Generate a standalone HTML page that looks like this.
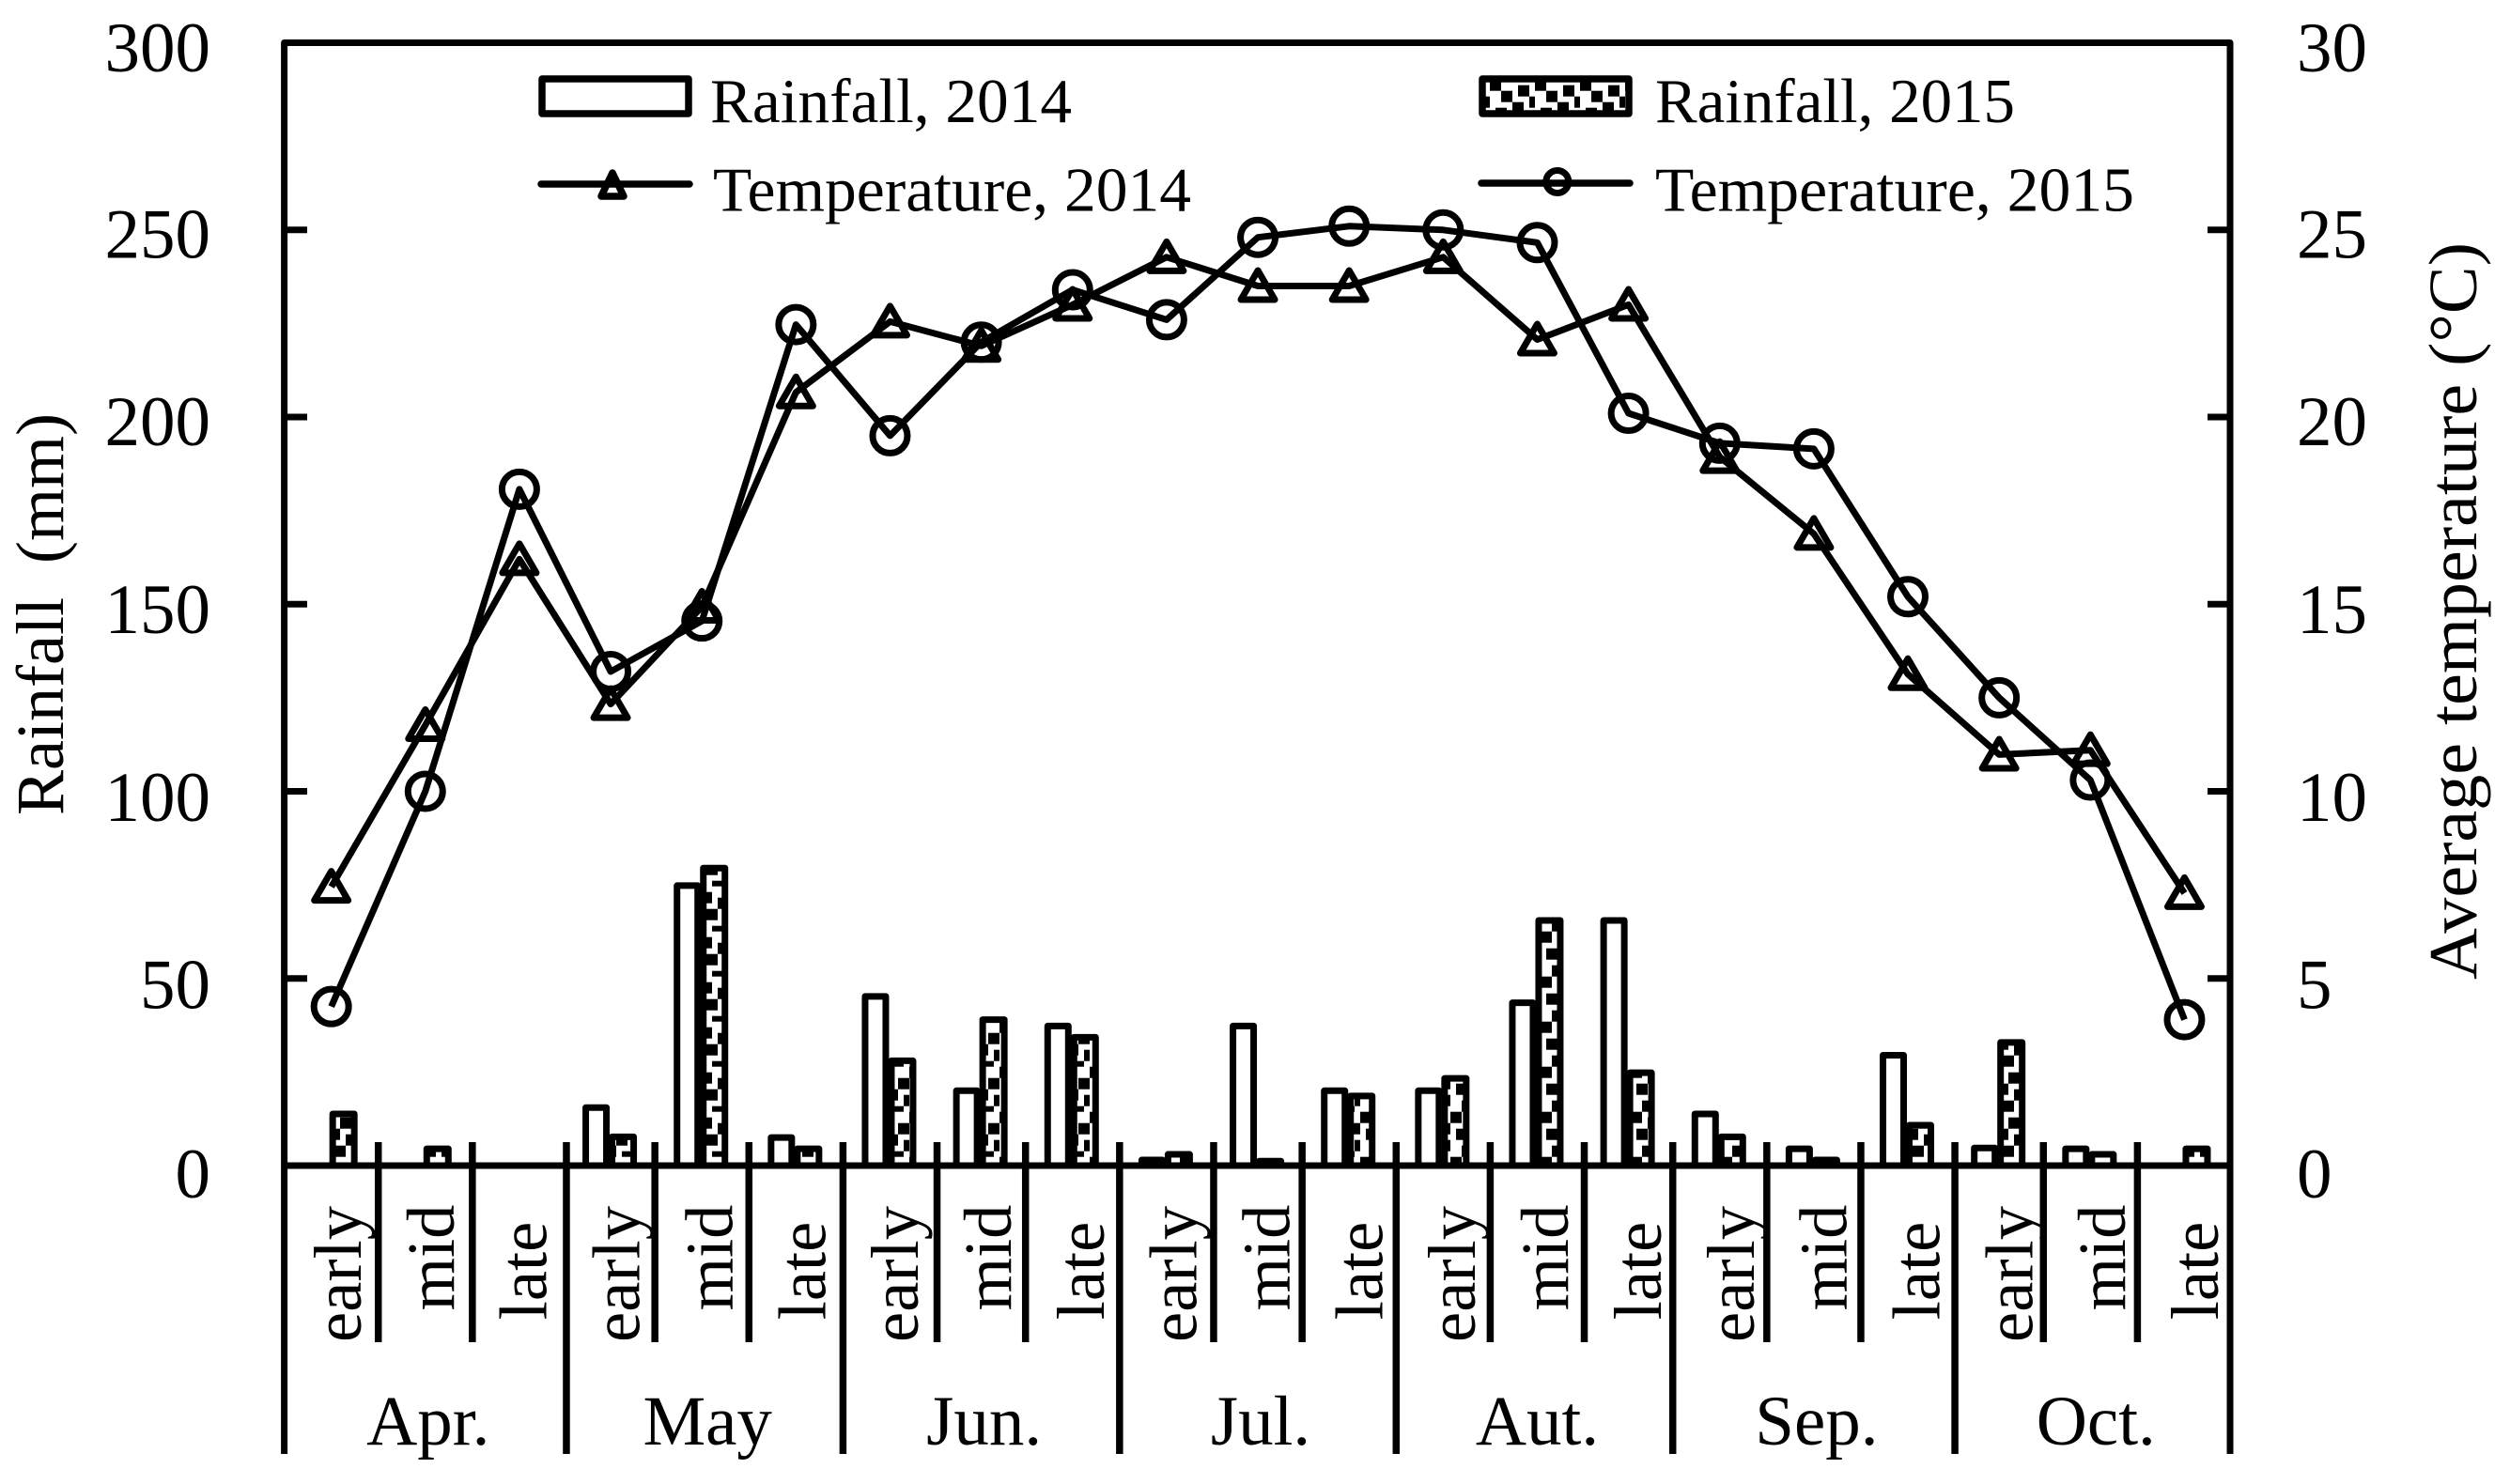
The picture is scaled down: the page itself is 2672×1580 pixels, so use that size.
<!DOCTYPE html>
<html lang="en">
<head>
<meta charset="utf-8">
<title>Rainfall and average temperature, 2014 and 2015</title>
<style>
html,body{margin:0;padding:0;background:#fff;width:2672px;height:1580px;overflow:hidden}
svg{display:block}
text{font-family:"Liberation Serif","Times New Roman",serif;fill:#000}
</style>
</head>
<body>
<svg id="chart" xmlns="http://www.w3.org/2000/svg" width="2672" height="1580" viewBox="0 0 2672 1580">
  <defs>
    <pattern id="barHatch" patternUnits="userSpaceOnUse" width="48" height="48" patternTransform="translate(8 31.7)">
      <rect width="48" height="48" fill="#fff"/>
      <g fill="#000">
        <rect x="0" y="0" width="12" height="12"/><rect x="6" y="18" width="12" height="12"/>
        <rect x="12" y="36" width="12" height="12"/><rect x="18" y="6" width="12" height="12"/>
        <rect x="24" y="24" width="12" height="12"/><rect x="30" y="42" width="12" height="12"/>
        <rect x="36" y="12" width="12" height="12"/><rect x="42" y="30" width="12" height="12"/>
      </g>
    </pattern>
    <pattern id="legendHatch" patternUnits="userSpaceOnUse" width="48" height="48" patternTransform="translate(1586 84.7)">
      <rect width="48" height="48" fill="#fff"/>
      <g fill="#000">
        <rect x="0" y="0" width="12" height="12"/><rect x="6" y="30" width="12" height="12"/>
        <rect x="12" y="12" width="12" height="12"/><rect x="18" y="42" width="12" height="12"/>
        <rect x="24" y="24" width="12" height="12"/><rect x="30" y="6" width="12" height="12"/>
        <rect x="36" y="36" width="12" height="12"/><rect x="42" y="18" width="12" height="12"/>
      </g>
    </pattern>
  </defs>

  <g id="legend">
    <g>
      <rect x="577" y="84" width="156" height="37" fill="#fff" stroke="#000" stroke-width="7.5" stroke-linejoin="round"/>
      <text x="756" y="130" font-size="67" textLength="385" lengthAdjust="spacingAndGlyphs">Rainfall, 2014</text>
    </g>
    <g>
      <rect x="1578" y="84" width="156" height="37" fill="url(#legendHatch)" stroke="#000" stroke-width="7.5" stroke-linejoin="round"/>
      <text x="1762" y="130" font-size="67" textLength="383" lengthAdjust="spacingAndGlyphs">Rainfall, 2015</text>
    </g>
    <g>
      <line x1="576" y1="196" x2="734" y2="196" stroke="#000" stroke-width="7.5" stroke-linecap="round"/>
      <path d="M652 184 L664 209 L640 209 Z" fill="none" stroke="#000" stroke-width="7.5" stroke-linejoin="round"/>
      <text x="759" y="224.5" font-size="67" textLength="509" lengthAdjust="spacingAndGlyphs">Temperature, 2014</text>
    </g>
    <g>
      <line x1="1577" y1="195" x2="1735" y2="195" stroke="#000" stroke-width="7.5" stroke-linecap="round"/>
      <circle cx="1657.8" cy="193.5" r="12" fill="none" stroke="#000" stroke-width="7"/>
      <text x="1762" y="224.5" font-size="67" textLength="510" lengthAdjust="spacingAndGlyphs">Temperature, 2015</text>
    </g>
  </g>

  <text transform="translate(67 868) rotate(-90)" font-size="72" textLength="428" lengthAdjust="spacingAndGlyphs" xml:space="preserve">Rainfall  (mm)</text>
  <text transform="translate(2636 1043) rotate(-90)" font-size="73" textLength="785" lengthAdjust="spacingAndGlyphs">Average temperature (°C)</text>
</svg>

<script>
const periods = ["early","mid","late"];
const months = ["Apr.","May","Jun.","Jul.","Aut.","Sep.","Oct."];
const rainTicks = [0,50,100,150,200,250,300];
const tempTicks = [0,5,10,15,20,25,30];
const rainfall2014 = [0,0,0,15.5,74.8,7.5,45.2,20,37.3,1.5,37.3,20,20,43.5,65.5,13.8,4.5,29.5,4.7,4.5,0];
const rainfall2015 = [13.8,4.5,0,7.7,79.5,4.5,28,39,34.3,3,1.2,18.6,23.3,65.5,24.8,7.7,1.5,10.8,32.9,3,4.5];
const temperature2014 = [7.45,11.77,16.2,12.33,14.93,20.66,22.55,21.9,23.0,24.27,23.5,23.5,24.27,22.07,23.0,18.93,16.88,13.13,10.98,11.1,7.28];
const temperature2015 = [4.25,10.0,18.07,13.2,14.55,22.47,19.5,22.0,23.4,22.6,24.8,25.1,25.0,24.66,20.1,19.3,19.15,15.2,12.5,10.3,3.9];

const svgNS = "http://www.w3.org/2000/svg";
const chart = document.getElementById("chart");

function yRain(v){ return 1241 - v * (1195.5 / 300); }
function yTemp(v){ return 1241 - v * (1195.5 / 30); }
function labelBaseline(frac){ return 1275 - frac * 1199; }
function bandWidth(i){ return [3,7,10,14,18].indexOf(i) >= 0 ? 94.2 : 100.12; }
function xEdge(i){
  let x = 302.6;
  for(let k = 0; k < i; k++){ x += bandWidth(k); }
  return x;
}
function xCenter(i){ return (xEdge(i) + xEdge(i + 1)) / 2; }
function periodLabelX(i){ return 384 + i * 98.85; }
const periodLabelCenter = {early:1356.5, mid:1339, late:1353};

function make(tag, attrs, parent){
  const el = document.createElementNS(svgNS, tag);
  for(const k in attrs){ el.setAttribute(k, attrs[k]); }
  (parent || chart).appendChild(el);
  return el;
}

/* rainfall bars */
const barsGroup = make("g", {});


function drawBar(i, value, x0, x1, fill, seriesName){
  const top = yRain(value);
  const bar = make("rect", {x:x0, y:top, width:x1 - x0, height:1241 - top, fill:fill, stroke:"#000", "stroke-width":7, "stroke-linejoin":"round"}, barsGroup);
  
  
}
rainfall2014.forEach(function(v, i){
  if(v > 0){ drawBar(i, v, xCenter(i) - 26.5, xCenter(i) - 4.5, "#fff", "rainfall-2014"); }
});
rainfall2015.forEach(function(v, i){
  if(v > 0){ drawBar(i, v, xCenter(i) + 1.5, xCenter(i) + 24.5, "url(#barHatch)", "rainfall-2015"); }
});

/* frame and axes */
const frame = make("path", {d:"M302.6 1548 V45.5 H2374 V1548", fill:"none", stroke:"#000", "stroke-width":7, "stroke-linejoin":"round"});


const xAxis = make("line", {x1:302.6, y1:1241, x2:2374, y2:1241, stroke:"#000", "stroke-width":7});



/* y ticks and labels */
rainTicks.forEach(function(v, i){
  const y = yRain(v);
  if(i > 0 && i < rainTicks.length - 1){
    const t = make("line", {x1:302.6, y1:y, x2:327, y2:y, stroke:"#000", "stroke-width":7});
    
    
  }
  const l = make("text", {x:224, y:labelBaseline(i / (rainTicks.length - 1)) - (i > 0 && i < rainTicks.length - 1 ? 1.5 : 0), "font-size":75, "text-anchor":"end"});
  l.textContent = String(v);
  
  
});
tempTicks.forEach(function(v, i){
  const y = yTemp(v);
  if(i > 0 && i < tempTicks.length - 1){
    const t = make("line", {x1:2350, y1:y, x2:2374, y2:y, stroke:"#000", "stroke-width":7});
    
    
  }
  const l = make("text", {x:2445, y:labelBaseline(i / (tempTicks.length - 1)) - (i > 0 && i < tempTicks.length - 1 ? 1.5 : 0), "font-size":75});
  l.textContent = String(v);
  
  
});

/* x separators and labels */
for(let i = 1; i < months.length * periods.length; i++){
  const isMonth = i % periods.length === 0;
  const sep = make("line", {x1:xEdge(i), y1:1216, x2:xEdge(i), y2:isMonth ? 1548 : 1429, stroke:"#000", "stroke-width":7.5});
  
  
}
for(let i = 0; i < months.length * periods.length; i++){
  const word = periods[i % periods.length];
  const l = make("text", {transform:"translate(" + periodLabelX(i) + " " + periodLabelCenter[word] + ") rotate(-90)", "font-size":72.5, "text-anchor":"middle"});
  l.textContent = word;
  
  
}
months.forEach(function(m, j){
  const cx = (xEdge(j * periods.length) + xEdge((j + 1) * periods.length)) / 2 + 3;
  const l = make("text", {x:cx, y:1538, "font-size":75, "text-anchor":"middle"});
  l.textContent = m;
  
  
});

/* temperature lines */
function linePoints(values){
  return values.map(function(v, i){ return xCenter(i).toFixed(1) + "," + yTemp(v).toFixed(1); }).join(" ");
}
const line2014 = make("polyline", {points:linePoints(temperature2014), fill:"none", stroke:"#000", "stroke-width":7, "stroke-linejoin":"round"});


const line2015 = make("polyline", {points:linePoints(temperature2015), fill:"none", stroke:"#000", "stroke-width":7, "stroke-linejoin":"round"});



temperature2014.forEach(function(v, i){
  const x = xCenter(i), y = yTemp(v);
  const d = "M" + x + " " + (y - 16.5) + " L" + (x + 18) + " " + (y + 14.5) + " L" + (x - 18) + " " + (y + 14.5) + " Z";
  const m = make("path", {d:d, fill:"none", stroke:"#000", "stroke-width":7, "stroke-linejoin":"round"});
  
  
});
temperature2015.forEach(function(v, i){
  const m = make("circle", {cx:xCenter(i), cy:yTemp(v), r:18.5, fill:"none", stroke:"#000", "stroke-width":7});
  
  
});
</script>
</body>
</html>
